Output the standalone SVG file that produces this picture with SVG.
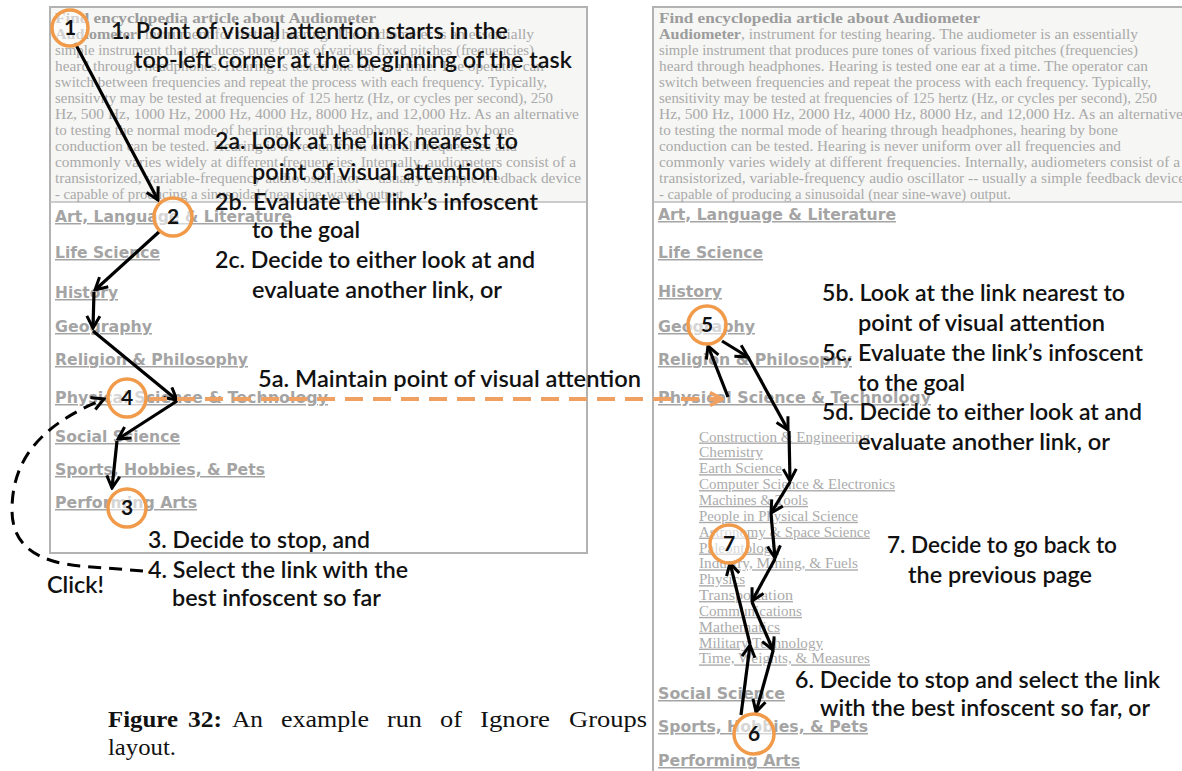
<svg xmlns="http://www.w3.org/2000/svg" width="1182" height="771" viewBox="0 0 1182 771">
<style>
.art{font-family:"Liberation Serif",serif;font-size:14px;fill:#a9a9a9}
.artb{font-family:"Liberation Serif",serif;font-size:14px;fill:#9c9c9c;font-weight:bold}
.lk{font-family:"DejaVu Sans",Verdana,sans-serif;font-size:15px;font-weight:bold;fill:#a4a4a4;text-decoration:underline}
.sub{font-family:"Liberation Serif",serif;font-size:14px;fill:#ababab;text-decoration:underline}
.an{font-family:Lato,"Open Sans",sans-serif;font-size:23px;fill:#111;font-weight:600}
.num{font-family:Lato,"Open Sans",sans-serif;font-size:21px;fill:#111;font-weight:bold;text-anchor:middle}
.cap{font-family:"Liberation Serif",serif;font-size:24px;fill:#111}
.circ{fill:#fff;fill-opacity:0.55;stroke:#f09a4a;stroke-width:3.5}
.pan{fill:#fff;stroke:#b2b2b2;stroke-width:2}
.top{fill:#f6f6f4}
.div{stroke:#bdbdbd;stroke-width:1.5}
.blk{fill:none;stroke:#000;stroke-width:3.2}
.dash{fill:none;stroke:#000;stroke-width:3;stroke-dasharray:13 8}
.org{fill:none;stroke:#f0a060;stroke-width:4;stroke-dasharray:18 10}
</style>
<defs>
<marker id="ah" viewBox="0 0 16 16" refX="14" refY="8" markerWidth="16" markerHeight="16" markerUnits="userSpaceOnUse" orient="auto">
<path d="M2,1.5 L14,8 L2,14.5" fill="none" stroke="#000" stroke-width="3"/>
</marker>
<marker id="ao" viewBox="0 0 16 16" refX="14" refY="8" markerWidth="16" markerHeight="16" markerUnits="userSpaceOnUse" orient="auto">
<path d="M2,1.5 L14,8 L2,14.5" fill="none" stroke="#f0a060" stroke-width="3.5"/>
</marker>
<g id="article">
<text class="artb" x="0" y="22.5" textLength="321" lengthAdjust="spacingAndGlyphs">Find encyclopedia article about Audiometer</text>
<text class="artb" x="0" y="38.5" textLength="82" lengthAdjust="spacingAndGlyphs">Audiometer</text>
<text class="art" x="82" y="38.5" textLength="397" lengthAdjust="spacingAndGlyphs">, instrument for testing hearing. The audiometer is an essentially</text>
<text class="art" x="0" y="54.5" textLength="479" lengthAdjust="spacingAndGlyphs">simple instrument that produces pure tones of various fixed pitches (frequencies)</text>
<text class="art" x="0" y="70.5" textLength="489" lengthAdjust="spacingAndGlyphs">heard through headphones. Hearing is tested one ear at a time. The operator can</text>
<text class="art" x="0" y="86.5" textLength="492" lengthAdjust="spacingAndGlyphs">switch between frequencies and repeat the process with each frequency. Typically,</text>
<text class="art" x="0" y="102.5" textLength="498" lengthAdjust="spacingAndGlyphs">sensitivity may be tested at frequencies of 125 hertz (Hz, or cycles per second), 250</text>
<text class="art" x="0" y="118.5" textLength="524" lengthAdjust="spacingAndGlyphs">Hz, 500 Hz, 1000 Hz, 2000 Hz, 4000 Hz, 8000 Hz, and 12,000 Hz. As an alternative</text>
<text class="art" x="0" y="134.5" textLength="459" lengthAdjust="spacingAndGlyphs">to testing the normal mode of hearing through headphones, hearing by bone</text>
<text class="art" x="0" y="150.5" textLength="462" lengthAdjust="spacingAndGlyphs">conduction can be tested. Hearing is never uniform over all frequencies and</text>
<text class="art" x="0" y="166.5" textLength="521" lengthAdjust="spacingAndGlyphs">commonly varies widely at different frequencies. Internally, audiometers consist of a</text>
<text class="art" x="0" y="182.5" textLength="526" lengthAdjust="spacingAndGlyphs">transistorized, variable-frequency audio oscillator -- usually a simple feedback device</text>
<text class="art" x="0" y="198.5" textLength="352" lengthAdjust="spacingAndGlyphs">- capable of producing a sinusoidal (near sine-wave) output.</text>
</g>
</defs>
<rect width="1182" height="771" fill="#fff"/>

<g id="left-page">
<rect class="pan" x="50" y="7" width="537" height="546"/>
<rect class="top" x="51" y="8" width="535" height="194"/>
<line class="div" x1="50" y1="202" x2="587" y2="202"/>
<use href="#article" x="55" y="0"/>
<text class="lk" x="55" y="222" textLength="237" lengthAdjust="spacingAndGlyphs">Art, Language &amp; Literature</text>
<text class="lk" x="55" y="258" textLength="105" lengthAdjust="spacingAndGlyphs">Life Science</text>
<text class="lk" x="55" y="298" textLength="63" lengthAdjust="spacingAndGlyphs">History</text>
<text class="lk" x="55" y="332" textLength="97" lengthAdjust="spacingAndGlyphs">Geography</text>
<text class="lk" x="55" y="365" textLength="193" lengthAdjust="spacingAndGlyphs">Religion &amp; Philosophy</text>
<text class="lk" x="55" y="403" textLength="273" lengthAdjust="spacingAndGlyphs">Physical Science &amp; Technology</text>
<text class="lk" x="55" y="442" textLength="125" lengthAdjust="spacingAndGlyphs">Social Science</text>
<text class="lk" x="55" y="475" textLength="210" lengthAdjust="spacingAndGlyphs">Sports, Hobbies, &amp; Pets</text>
<text class="lk" x="55" y="508" textLength="142" lengthAdjust="spacingAndGlyphs">Performing Arts</text>
</g>

<g id="right-page">
<rect class="pan" x="653" y="7" width="560" height="790"/>
<rect class="top" x="654" y="8" width="540" height="194"/>
<line class="div" x1="653" y1="202" x2="1182" y2="202"/>
<use href="#article" x="659" y="0"/>
<text class="lk" x="658" y="220" textLength="238" lengthAdjust="spacingAndGlyphs">Art, Language &amp; Literature</text>
<text class="lk" x="658" y="258" textLength="105" lengthAdjust="spacingAndGlyphs">Life Science</text>
<text class="lk" x="658" y="297" textLength="64" lengthAdjust="spacingAndGlyphs">History</text>
<text class="lk" x="658" y="332" textLength="97" lengthAdjust="spacingAndGlyphs">Geography</text>
<text class="lk" x="658" y="365" textLength="194" lengthAdjust="spacingAndGlyphs">Religion &amp; Philosophy</text>
<text class="lk" x="658" y="403" textLength="273" lengthAdjust="spacingAndGlyphs">Physical Science &amp; Technology</text>
<text class="sub" x="699" y="441.5" textLength="171" lengthAdjust="spacingAndGlyphs">Construction &amp; Engineering</text>
<text class="sub" x="699" y="457.4" textLength="64" lengthAdjust="spacingAndGlyphs">Chemistry</text>
<text class="sub" x="699" y="473.2" textLength="83" lengthAdjust="spacingAndGlyphs">Earth Science</text>
<text class="sub" x="699" y="489.1" textLength="196" lengthAdjust="spacingAndGlyphs">Computer Science &amp; Electronics</text>
<text class="sub" x="699" y="504.9" textLength="109" lengthAdjust="spacingAndGlyphs">Machines &amp; Tools</text>
<text class="sub" x="699" y="520.8" textLength="159" lengthAdjust="spacingAndGlyphs">People in Physical Science</text>
<text class="sub" x="699" y="536.6" textLength="171" lengthAdjust="spacingAndGlyphs">Astronomy &amp; Space Science</text>
<text class="sub" x="699" y="552.5" textLength="80" lengthAdjust="spacingAndGlyphs">Paleontology</text>
<text class="sub" x="699" y="568.3" textLength="159" lengthAdjust="spacingAndGlyphs">Industry, Mining, &amp; Fuels</text>
<text class="sub" x="699" y="584.2" textLength="46" lengthAdjust="spacingAndGlyphs">Physics</text>
<text class="sub" x="699" y="600" textLength="94" lengthAdjust="spacingAndGlyphs">Transportation</text>
<text class="sub" x="699" y="615.9" textLength="103" lengthAdjust="spacingAndGlyphs">Communications</text>
<text class="sub" x="699" y="631.7" textLength="81" lengthAdjust="spacingAndGlyphs">Mathematics</text>
<text class="sub" x="699" y="647.6" textLength="124" lengthAdjust="spacingAndGlyphs">Military Technology</text>
<text class="sub" x="699" y="663.4" textLength="171" lengthAdjust="spacingAndGlyphs">Time, Weights, &amp; Measures</text>
<text class="lk" x="658" y="699" textLength="127" lengthAdjust="spacingAndGlyphs">Social Science</text>
<text class="lk" x="658" y="732" textLength="210" lengthAdjust="spacingAndGlyphs">Sports, Hobbies, &amp; Pets</text>
<text class="lk" x="658" y="766" textLength="142" lengthAdjust="spacingAndGlyphs">Performing Arts</text>
</g>

<g id="connectors">
<path class="blk" marker-end="url(#ah)" d="M75,43 L158,200"/>
<path class="blk" marker-end="url(#ah)" d="M160,231 L95,290"/>
<path class="blk" marker-end="url(#ah)" d="M94,292 L93,328"/>
<path class="blk" marker-end="url(#ah)" d="M93,331 L177,400"/>
<path class="blk" marker-end="url(#ah)" d="M177,401 L118,439"/>
<path class="blk" marker-end="url(#ah)" d="M117,441 L112,488"/>
<path class="dash" marker-end="url(#ah)" d="M143,571 L80,566 C40,562 12,548 12,510 C12,460 40,425 104,399"/>
<path class="org" marker-end="url(#ao)" d="M149,399 L722,399"/>
<path class="blk" marker-end="url(#ah)" d="M728,397 L708,346"/>
<path class="blk" marker-end="url(#ah)" d="M722,341 L748,357"/>
<path class="blk" marker-end="url(#ah)" d="M748,357 L788,430"/>
<path class="blk" marker-end="url(#ah)" d="M789,431 L790,481"/>
<path class="blk" marker-end="url(#ah)" d="M790,482 L771,513"/>
<path class="blk" marker-end="url(#ah)" d="M771,514 L775,558"/>
<path class="blk" marker-end="url(#ah)" d="M775,559 L752,601"/>
<path class="blk" marker-end="url(#ah)" d="M752,602 L773,650"/>
<path class="blk" marker-end="url(#ah)" d="M773,651 L756,712"/>
<path class="blk" marker-end="url(#ah)" d="M741,715 L750,645"/>
<path class="blk" marker-end="url(#ah)" d="M750,644 L730,563"/>
</g>

<g id="node-1"><circle class="circ" cx="70" cy="28" r="18"/><text class="num" x="70" y="35">1</text></g>
<g id="node-2"><circle class="circ" cx="173" cy="217" r="19"/><text class="num" x="173" y="224">2</text></g>
<g id="node-3"><circle class="circ" cx="127" cy="508" r="19"/><text class="num" x="127" y="515">3</text></g>
<g id="node-4"><circle class="circ" cx="127" cy="398" r="19"/><text class="num" x="127" y="405">4</text></g>
<g id="node-5"><circle class="circ" cx="707" cy="325" r="19"/><text class="num" x="707" y="332">5</text></g>
<g id="node-6"><circle class="circ" cx="754" cy="734" r="20"/><text class="num" x="754" y="741">6</text></g>
<g id="node-7"><circle class="circ" cx="729" cy="544" r="19"/><text class="num" x="729" y="551">7</text></g>

<g id="annotations">
<text class="an" x="111" y="39" textLength="397" lengthAdjust="spacingAndGlyphs">1. Point of visual attention starts in the</text>
<text class="an" x="134" y="68" textLength="438" lengthAdjust="spacingAndGlyphs">top-left corner at the beginning of the task</text>
<text class="an" x="215" y="149" textLength="303" lengthAdjust="spacingAndGlyphs">2a. Look at the link nearest to</text>
<text class="an" x="252" y="180" textLength="246" lengthAdjust="spacingAndGlyphs">point of visual attention</text>
<text class="an" x="215" y="210" textLength="323" lengthAdjust="spacingAndGlyphs">2b. Evaluate the link’s infoscent</text>
<text class="an" x="252" y="238" textLength="108" lengthAdjust="spacingAndGlyphs">to the goal</text>
<text class="an" x="215" y="268" textLength="320" lengthAdjust="spacingAndGlyphs">2c. Decide to either look at and</text>
<text class="an" x="252" y="298" textLength="250" lengthAdjust="spacingAndGlyphs">evaluate another link, or</text>
<text class="an" x="258" y="387" textLength="383" lengthAdjust="spacingAndGlyphs">5a. Maintain point of visual attention</text>
<text class="an" x="148" y="548" textLength="222" lengthAdjust="spacingAndGlyphs">3. Decide to stop, and</text>
<text class="an" x="148" y="578" textLength="260" lengthAdjust="spacingAndGlyphs">4. Select the link with the</text>
<text class="an" x="172" y="606" textLength="209" lengthAdjust="spacingAndGlyphs">best infoscent so far</text>
<text class="an" x="47" y="593" textLength="57" lengthAdjust="spacingAndGlyphs">Click!</text>
<text class="an" x="822" y="301" textLength="303" lengthAdjust="spacingAndGlyphs">5b. Look at the link nearest to</text>
<text class="an" x="858" y="331" textLength="247" lengthAdjust="spacingAndGlyphs">point of visual attention</text>
<text class="an" x="822" y="361" textLength="321" lengthAdjust="spacingAndGlyphs">5c. Evaluate the link’s infoscent</text>
<text class="an" x="858" y="391" textLength="107" lengthAdjust="spacingAndGlyphs">to the goal</text>
<text class="an" x="822" y="420" textLength="320" lengthAdjust="spacingAndGlyphs">5d. Decide to either look at and</text>
<text class="an" x="858" y="450" textLength="252" lengthAdjust="spacingAndGlyphs">evaluate another link, or</text>
<text class="an" x="887" y="553" textLength="230" lengthAdjust="spacingAndGlyphs">7. Decide to go back to</text>
<text class="an" x="908" y="583" textLength="184" lengthAdjust="spacingAndGlyphs">the previous page</text>
<text class="an" x="795" y="688" textLength="365" lengthAdjust="spacingAndGlyphs">6. Decide to stop and select the link</text>
<text class="an" x="820" y="716" textLength="330" lengthAdjust="spacingAndGlyphs">with the best infoscent so far, or</text>
</g>

<g id="caption">
<text class="cap" x="108" y="727" font-weight="bold" textLength="70" lengthAdjust="spacingAndGlyphs">Figure</text>
<text class="cap" x="188" y="727" font-weight="bold" textLength="34" lengthAdjust="spacingAndGlyphs">32:</text>
<text class="cap" x="232" y="727" textLength="31" lengthAdjust="spacingAndGlyphs">An</text>
<text class="cap" x="281" y="727" textLength="88" lengthAdjust="spacingAndGlyphs">example</text>
<text class="cap" x="387" y="727" textLength="35" lengthAdjust="spacingAndGlyphs">run</text>
<text class="cap" x="440" y="727" textLength="22" lengthAdjust="spacingAndGlyphs">of</text>
<text class="cap" x="480" y="727" textLength="70" lengthAdjust="spacingAndGlyphs">Ignore</text>
<text class="cap" x="569" y="727" textLength="78" lengthAdjust="spacingAndGlyphs">Groups</text>
<text class="cap" x="108" y="755" textLength="68" lengthAdjust="spacingAndGlyphs">layout.</text>
</g>
</svg>
